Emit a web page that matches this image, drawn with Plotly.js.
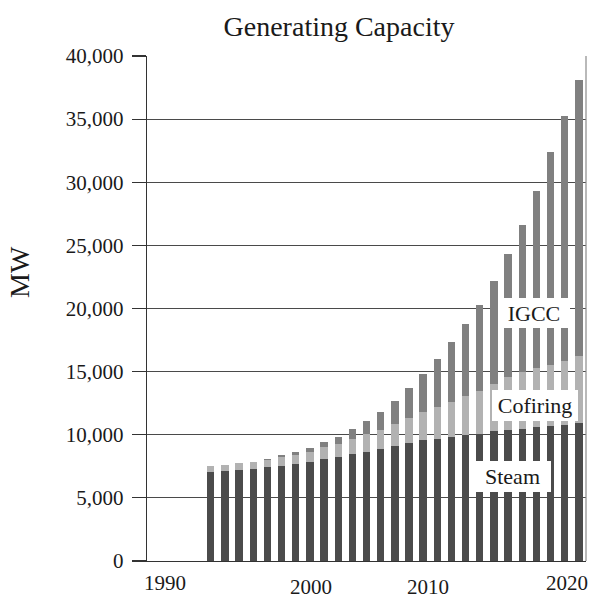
<!DOCTYPE html>
<html>
<head>
<meta charset="utf-8">
<script src="https://cdn.plot.ly/plotly-3.0.1.min.js"></script>
<style>
  html, body { margin: 0; padding: 0; background: #fff; }
  #chart { width: 591px; height: 602px; }
</style>
</head>
<body>
<div id="chart"></div>
<script>
// ---- data (MW) ----
const years = [1994, 1995, 1996, 1997, 1998, 1999, 2000, 2001, 2002, 2003, 2004, 2005, 2006, 2007,
               2008, 2009, 2010, 2011, 2012, 2013, 2014, 2015, 2016, 2017, 2018, 2019, 2020];
const steam = [7075, 7150, 7230, 7310, 7450, 7550, 7710, 7870, 8080, 8240, 8470, 8630, 8870, 9110,
               9370, 9580, 9690, 9850, 10000, 10060, 10300, 10400, 10480, 10640, 10690, 10800, 10960];
const cofiring = [450, 450, 530, 530, 530, 690, 690, 770, 950, 1030, 1190, 1425, 1505, 1740,
                  1980, 2220, 2540, 2750, 3065, 3430, 3720, 4200, 4515, 4670, 4830, 5070, 5310];
const igcc = [0, 0, 0, 0, 100, 160, 240, 320, 400, 555, 790, 1030, 1425, 1820,
              2350, 3010, 3775, 4750, 5730, 6785, 8160, 9715, 11645, 14020, 16875, 19385, 21860];
const seriesNames = ['Steam', 'Cofiring', 'IGCC'];
const xTickLabels = ['1990', '2000', '2010', '2020'];
const titleText = 'Generating Capacity';
const yTitleText = 'MW';

// ---- styling / layout ----
const FONT = '"Liberation Serif", "Times New Roman", serif';
const colors = ['#4b4b4b', '#b2b2b2', '#808080'];

const traces = [steam, cofiring, igcc].map((vals, i) => ({
  type: 'bar',
  name: seriesNames[i],
  x: years,
  y: vals,
  marker: { color: colors[i], line: { width: 0 } },
  hoverinfo: 'skip'
}));

// label boxes placed over the bars (data coords)
const boxPos = [
  { x: 2015.31, y: 6690, w: 77, h: 31 },   // Steam
  { x: 2016.9, y: 12320, w: 86, h: 31 },   // Cofiring
  { x: 2016.83, y: 19640, w: 72, h: 30 }   // IGCC
];
const boxAnn = seriesNames.map((n, i) => ({
  xref: 'x', yref: 'y', x: boxPos[i].x, y: boxPos[i].y,
  text: n, showarrow: false,
  font: { family: FONT, size: 22, color: '#1a1a1a' },
  bgcolor: '#ffffff', borderpad: 0, borderwidth: 0,
  width: boxPos[i].w, height: boxPos[i].h,
  xanchor: 'center', yanchor: 'middle'
}));

// staggered x labels (paper coords)
const xLabPos = [
  { x: (164.5 - 147) / 439, y: (561 - 583) / 505 },
  { x: (310.5 - 147) / 439, y: (561 - 587) / 505 },
  { x: (427.5 - 147) / 439, y: (561 - 587) / 505 },
  { x: (567 - 147) / 439, y: (561 - 583) / 505 }
];
const xLabAnn = xTickLabels.map((t, i) => ({
  xref: 'paper', yref: 'paper', x: xLabPos[i].x, y: xLabPos[i].y,
  text: t, showarrow: false,
  font: { family: FONT, size: 21, color: '#1a1a1a' },
  xanchor: 'center', yanchor: 'middle'
}));

const yTitleAnn = {
  xref: 'paper', yref: 'paper',
  x: (19 - 147) / 439, y: (561 - 272) / 505,
  text: yTitleText, showarrow: false, textangle: -90,
  font: { family: FONT, size: 28, color: '#1a1a1a' },
  xanchor: 'center', yanchor: 'middle'
};

const layout = {
  width: 591, height: 602,
  margin: { l: 147, r: 5, t: 56, b: 41, pad: 0 },
  paper_bgcolor: '#ffffff', plot_bgcolor: '#ffffff',
  font: { family: FONT, size: 21, color: '#1a1a1a' },
  title: {
    text: titleText,
    font: { family: FONT, size: 28, color: '#1a1a1a' },
    x: 339 / 591, xanchor: 'center', xref: 'container',
    y: 1 - 26 / 602, yanchor: 'middle', yref: 'container'
  },
  barmode: 'stack',
  bargap: 0.48,
  showlegend: false,
  xaxis: {
    type: 'linear',
    range: [1989.5, 2020.5],
    showticklabels: false,
    ticks: '',
    showgrid: false,
    zeroline: false,
    showline: true, linecolor: '#333', linewidth: 1.2,
    fixedrange: true
  },
  yaxis: {
    range: [0, 40000],
    tick0: 0, dtick: 5000,
    tickformat: ',d',
    ticks: 'outside', ticklen: 14, tickcolor: '#333', tickwidth: 1.2,
    ticklabelstandoff: 4,
    tickfont: { family: FONT, size: 21, color: '#1a1a1a' },
    showgrid: true, gridcolor: '#4a4a4a', gridwidth: 1.2,
    zeroline: false,
    showline: true, linecolor: '#333', linewidth: 1.2,
    fixedrange: true
  },
  shapes: [
    { type: 'line', xref: 'paper', yref: 'paper', x0: 1, x1: 1, y0: 0, y1: 1,
      line: { color: '#8a8a8a', width: 1.2 } }
  ],
  annotations: [...boxAnn, ...xLabAnn, yTitleAnn]
};

Plotly.newPlot('chart', traces, layout, { staticPlot: true, displayModeBar: false });
</script>
</body>
</html>
